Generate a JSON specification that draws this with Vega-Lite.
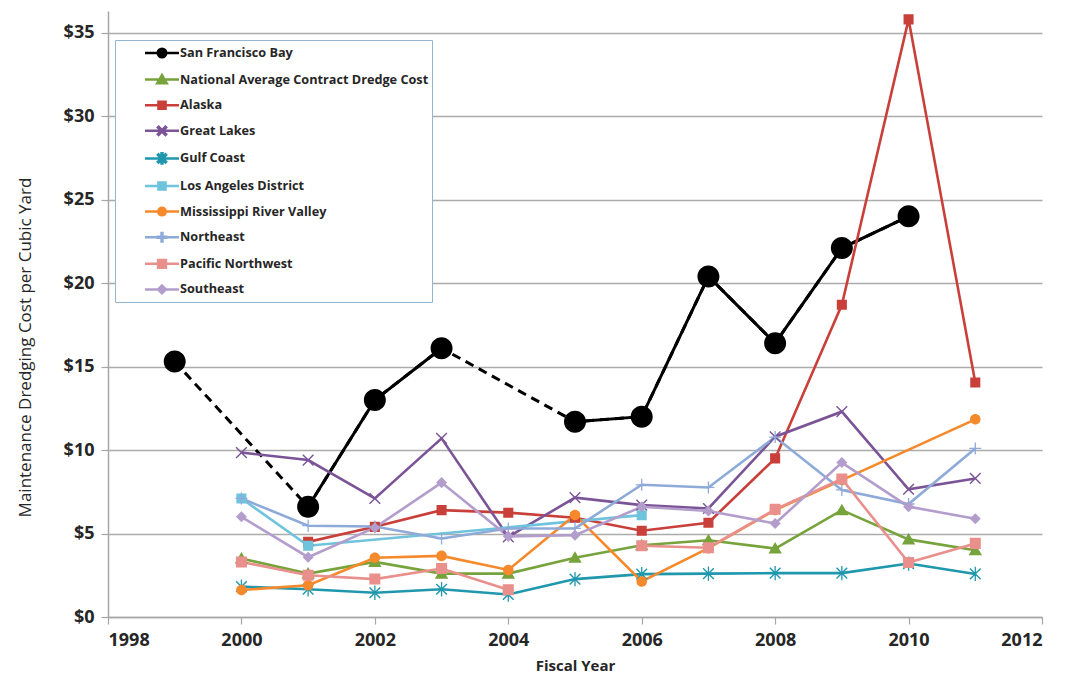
{
  "$schema": "https://vega.github.io/schema/vega-lite/v6.json",
  "autosize": {"type": "none"},
  "width": 934,
  "height": 606,
  "padding": {"left": 108, "top": 11, "right": 29, "bottom": 59},
  "background": "white",
  "config": {
    "view": {"stroke": null},
    "font": "Open Sans"
  },
  "data": {
    "values": [
      {"year": 1999, "series": "San Francisco Bay", "value": 15.3, "seg": "a"},
      {"year": 2001, "series": "San Francisco Bay", "value": 6.6, "seg": "b"},
      {"year": 2002, "series": "San Francisco Bay", "value": 13.0, "seg": "b"},
      {"year": 2003, "series": "San Francisco Bay", "value": 16.1, "seg": "b"},
      {"year": 2005, "series": "San Francisco Bay", "value": 11.7, "seg": "c"},
      {"year": 2006, "series": "San Francisco Bay", "value": 12.0, "seg": "c"},
      {"year": 2007, "series": "San Francisco Bay", "value": 20.4, "seg": "c"},
      {"year": 2008, "series": "San Francisco Bay", "value": 16.4, "seg": "c"},
      {"year": 2009, "series": "San Francisco Bay", "value": 22.1, "seg": "c"},
      {"year": 2010, "series": "San Francisco Bay", "value": 24.0, "seg": "c"},

      {"year": 2000, "series": "National Average Contract Dredge Cost", "value": 3.5},
      {"year": 2001, "series": "National Average Contract Dredge Cost", "value": 2.6},
      {"year": 2002, "series": "National Average Contract Dredge Cost", "value": 3.3},
      {"year": 2003, "series": "National Average Contract Dredge Cost", "value": 2.6},
      {"year": 2004, "series": "National Average Contract Dredge Cost", "value": 2.6},
      {"year": 2005, "series": "National Average Contract Dredge Cost", "value": 3.55},
      {"year": 2006, "series": "National Average Contract Dredge Cost", "value": 4.3},
      {"year": 2007, "series": "National Average Contract Dredge Cost", "value": 4.6},
      {"year": 2008, "series": "National Average Contract Dredge Cost", "value": 4.1},
      {"year": 2009, "series": "National Average Contract Dredge Cost", "value": 6.4},
      {"year": 2010, "series": "National Average Contract Dredge Cost", "value": 4.65},
      {"year": 2011, "series": "National Average Contract Dredge Cost", "value": 4.0},

      {"year": 2001, "series": "Alaska", "value": 4.5},
      {"year": 2002, "series": "Alaska", "value": 5.4},
      {"year": 2003, "series": "Alaska", "value": 6.4},
      {"year": 2004, "series": "Alaska", "value": 6.25},
      {"year": 2005, "series": "Alaska", "value": 5.95},
      {"year": 2006, "series": "Alaska", "value": 5.17},
      {"year": 2007, "series": "Alaska", "value": 5.65},
      {"year": 2008, "series": "Alaska", "value": 9.5},
      {"year": 2009, "series": "Alaska", "value": 18.7},
      {"year": 2010, "series": "Alaska", "value": 35.8},
      {"year": 2011, "series": "Alaska", "value": 14.05},

      {"year": 2000, "series": "Great Lakes", "value": 9.85},
      {"year": 2001, "series": "Great Lakes", "value": 9.4},
      {"year": 2002, "series": "Great Lakes", "value": 7.1},
      {"year": 2003, "series": "Great Lakes", "value": 10.7},
      {"year": 2004, "series": "Great Lakes", "value": 4.8},
      {"year": 2005, "series": "Great Lakes", "value": 7.15},
      {"year": 2006, "series": "Great Lakes", "value": 6.7},
      {"year": 2007, "series": "Great Lakes", "value": 6.5},
      {"year": 2008, "series": "Great Lakes", "value": 10.8},
      {"year": 2009, "series": "Great Lakes", "value": 12.3},
      {"year": 2010, "series": "Great Lakes", "value": 7.65},
      {"year": 2011, "series": "Great Lakes", "value": 8.3},

      {"year": 2000, "series": "Gulf Coast", "value": 1.82},
      {"year": 2001, "series": "Gulf Coast", "value": 1.66},
      {"year": 2002, "series": "Gulf Coast", "value": 1.45},
      {"year": 2003, "series": "Gulf Coast", "value": 1.66},
      {"year": 2004, "series": "Gulf Coast", "value": 1.35},
      {"year": 2005, "series": "Gulf Coast", "value": 2.27},
      {"year": 2006, "series": "Gulf Coast", "value": 2.57},
      {"year": 2007, "series": "Gulf Coast", "value": 2.6},
      {"year": 2008, "series": "Gulf Coast", "value": 2.63},
      {"year": 2009, "series": "Gulf Coast", "value": 2.63},
      {"year": 2010, "series": "Gulf Coast", "value": 3.2},
      {"year": 2011, "series": "Gulf Coast", "value": 2.58},

      {"year": 2000, "series": "Los Angeles District", "value": 7.1},
      {"year": 2001, "series": "Los Angeles District", "value": 4.27},
      {"year": 2006, "series": "Los Angeles District", "value": 6.1},

      {"year": 2000, "series": "Mississippi River Valley", "value": 1.62},
      {"year": 2001, "series": "Mississippi River Valley", "value": 1.9},
      {"year": 2002, "series": "Mississippi River Valley", "value": 3.55},
      {"year": 2003, "series": "Mississippi River Valley", "value": 3.66},
      {"year": 2004, "series": "Mississippi River Valley", "value": 2.82},
      {"year": 2005, "series": "Mississippi River Valley", "value": 6.11},
      {"year": 2006, "series": "Mississippi River Valley", "value": 2.13},
      {"year": 2007, "series": "Mississippi River Valley", "value": 4.12},
      {"year": 2008, "series": "Mississippi River Valley", "value": 6.41},
      {"year": 2009, "series": "Mississippi River Valley", "value": 8.2},
      {"year": 2011, "series": "Mississippi River Valley", "value": 11.84},

      {"year": 2000, "series": "Northeast", "value": 7.1},
      {"year": 2001, "series": "Northeast", "value": 5.47},
      {"year": 2002, "series": "Northeast", "value": 5.42},
      {"year": 2003, "series": "Northeast", "value": 4.7},
      {"year": 2004, "series": "Northeast", "value": 5.3},
      {"year": 2005, "series": "Northeast", "value": 5.31},
      {"year": 2006, "series": "Northeast", "value": 7.92},
      {"year": 2007, "series": "Northeast", "value": 7.76},
      {"year": 2008, "series": "Northeast", "value": 10.78},
      {"year": 2009, "series": "Northeast", "value": 7.61},
      {"year": 2010, "series": "Northeast", "value": 6.77},
      {"year": 2011, "series": "Northeast", "value": 10.1},

      {"year": 2000, "series": "Pacific Northwest", "value": 3.3},
      {"year": 2001, "series": "Pacific Northwest", "value": 2.5},
      {"year": 2002, "series": "Pacific Northwest", "value": 2.27},
      {"year": 2003, "series": "Pacific Northwest", "value": 2.9},
      {"year": 2004, "series": "Pacific Northwest", "value": 1.63},
      {"year": 2005, "series": "Pacific Northwest", "value": null},
      {"year": 2006, "series": "Pacific Northwest", "value": 4.27},
      {"year": 2007, "series": "Pacific Northwest", "value": 4.15},
      {"year": 2008, "series": "Pacific Northwest", "value": 6.45},
      {"year": 2009, "series": "Pacific Northwest", "value": 8.27},
      {"year": 2010, "series": "Pacific Northwest", "value": 3.26},
      {"year": 2011, "series": "Pacific Northwest", "value": 4.41},

      {"year": 2000, "series": "Southeast", "value": 6.0},
      {"year": 2001, "series": "Southeast", "value": 3.58},
      {"year": 2002, "series": "Southeast", "value": 5.35},
      {"year": 2003, "series": "Southeast", "value": 8.05},
      {"year": 2004, "series": "Southeast", "value": 4.83},
      {"year": 2005, "series": "Southeast", "value": 4.9},
      {"year": 2006, "series": "Southeast", "value": 6.6},
      {"year": 2007, "series": "Southeast", "value": 6.35},
      {"year": 2008, "series": "Southeast", "value": 5.6},
      {"year": 2009, "series": "Southeast", "value": 9.25},
      {"year": 2010, "series": "Southeast", "value": 6.61},
      {"year": 2011, "series": "Southeast", "value": 5.88}
    ]
  },
  "encoding": {
    "x": {
      "field": "year", "type": "quantitative",
      "scale": {"domain": [1998, 2012], "nice": false, "zero": false},
      "axis": {
        "values": [1998, 2000, 2002, 2004, 2006, 2008, 2010, 2012],
        "format": "d",
        "grid": false,
        "domainColor": "#a6a6a6", "domainWidth": 1.5,
        "tickColor": "#a6a6a6", "tickSize": 7, "tickWidth": 1.2,
        "labelFont": "Open Sans", "labelFontSize": 18, "labelFontWeight": "bold", "labelColor": "#262626",
        "labelPadding": 7,
        "title": "Fiscal Year",
        "titleFont": "Open Sans", "titleFontSize": 15, "titleFontWeight": "bold", "titleColor": "#262626",
        "titleY": 48, "titleBaseline": "middle"
      }
    },
    "y": {
      "field": "value", "type": "quantitative",
      "scale": {"domain": [0, 36.3], "nice": false},
      "axis": {
        "values": [0, 5, 10, 15, 20, 25, 30, 35],
        "labelExpr": "'$' + datum.value",
        "grid": true, "gridColor": "#ababab", "gridWidth": 1.3,
        "domainColor": "#a6a6a6", "domainWidth": 1.5,
        "tickColor": "#a6a6a6", "tickSize": 7, "tickWidth": 1.2,
        "labelFont": "Open Sans", "labelFontSize": 18, "labelFontWeight": "bold", "labelColor": "#262626",
        "labelPadding": 7,
        "title": "Maintenance Dredging Cost per Cubic Yard",
        "titleFont": "Open Sans", "titleFontSize": 17, "titleFontWeight": "normal", "titleColor": "#262626",
        "titleX": -83, "titleY": 336, "titleAngle": -90, "titleAlign": "center", "titleBaseline": "middle"
      }
    }
  },
  "layer": [
    {
      "transform": [{"filter": "datum.series === 'San Francisco Bay'"}],
      "mark": {"type": "line", "color": "#000000", "strokeWidth": 3, "strokeDash": [9, 6]},
      "encoding": {}
    },
    {
      "transform": [{"filter": "datum.series === 'San Francisco Bay'"}],
      "mark": {"type": "line", "color": "#000000", "strokeWidth": 3},
      "encoding": {"detail": {"field": "seg"}}
    },
    {
      "transform": [{"filter": "datum.series !== 'San Francisco Bay'"}],
      "mark": {"type": "line", "strokeWidth": 2.6, "invalid": "break-paths-filter-domains"},
      "encoding": {
        "stroke": {
          "field": "series", "type": "nominal",
          "scale": {
            "domain": ["San Francisco Bay", "National Average Contract Dredge Cost", "Alaska", "Great Lakes", "Gulf Coast", "Los Angeles District", "Mississippi River Valley", "Northeast", "Pacific Northwest", "Southeast"],
            "range": ["#000000", "#77a33c", "#c9403a", "#7b5497", "#1f98ae", "#6fc3dc", "#f5892b", "#8eaad8", "#e9908c", "#b39dcc"]
          },
          "legend": {
            "title": null,
            "orient": "none", "legendX": 7, "legendY": 29,
            "direction": "vertical",
            "fillColor": "white", "strokeColor": "#92b6d2",
            "padding": 3, "symbolOffset": 34, "labelOffset": 8,
            "symbolSize": 289, "symbolStrokeWidth": 2.5,
            "labelFont": "Open Sans", "labelFontSize": 12.7, "labelFontWeight": "bold", "labelColor": "#262626",
            "rowPadding": 6.6, "labelLimit": 400
          }
        }
      }
    },
    {
      "transform": [{"filter": "datum.series === 'San Francisco Bay'"}],
      "mark": {"type": "point", "filled": true, "opacity": 1, "size": 1936},
      "encoding": {
        "fill": {"field": "series", "type": "nominal"},
        "shape": {"field": "series", "type": "nominal"}
      }
    },
    {
      "transform": [{"filter": "datum.value != null && datum.series !== 'San Francisco Bay'"}],
      "mark": {"type": "point", "filled": true, "opacity": 1, "size": 575},
      "encoding": {
        "fill": {
          "field": "series", "type": "nominal",
          "scale": {
            "domain": ["San Francisco Bay", "National Average Contract Dredge Cost", "Alaska", "Great Lakes", "Gulf Coast", "Los Angeles District", "Mississippi River Valley", "Northeast", "Pacific Northwest", "Southeast"],
            "range": ["#000000", "#77a33c", "#c9403a", "#7b5497", "#1f98ae", "#6fc3dc", "#f5892b", "#8eaad8", "#e9908c", "#b39dcc"]
          },
          "legend": {
            "title": null,
            "orient": "none", "legendX": 7, "legendY": 29,
            "direction": "vertical",
            "fillColor": "white", "strokeColor": "#92b6d2",
            "padding": 3, "symbolOffset": 34, "labelOffset": 8,
            "symbolSize": 289, "symbolStrokeWidth": 2.5,
            "labelFont": "Open Sans", "labelFontSize": 12.7, "labelFontWeight": "bold", "labelColor": "#262626",
            "rowPadding": 6.6, "labelLimit": 400
          }
        },
        "shape": {
          "field": "series", "type": "nominal",
          "scale": {
            "domain": ["San Francisco Bay", "National Average Contract Dredge Cost", "Alaska", "Great Lakes", "Gulf Coast", "Los Angeles District", "Mississippi River Valley", "Northeast", "Pacific Northwest", "Southeast"],
            "range": [
              "M-2,0H2M-0.5,0A0.5,0.5 0 1,1 0.5,0A0.5,0.5 0 1,1 -0.5,0Z",
              "M-2,0H2M0,-0.54L0.56,0.42L-0.56,0.42Z",
              "M-2,0H2M-0.42,-0.42H0.42V0.42H-0.42Z",
              "M-2,0H2M-0.402,-0.486L0.486,0.402L0.402,0.486L-0.486,-0.402ZM-0.402,0.486L-0.486,0.402L0.402,-0.486L0.486,-0.402Z",
              "M-2,0H2M-0.402,-0.486L0.486,0.402L0.402,0.486L-0.486,-0.402ZM-0.402,0.486L-0.486,0.402L0.402,-0.486L0.486,-0.402ZM-0.054,-0.6H0.054V0.6H-0.054Z",
              "M-2,0H2M-0.42,-0.42H0.42V0.42H-0.42Z",
              "M-2,0H2M-0.44,0A0.44,0.44 0 1,1 0.44,0A0.44,0.44 0 1,1 -0.44,0Z",
              "M-2,0H2M-0.5,-0.054H0.5V0.054H-0.5ZM-0.054,-0.5H0.054V0.5H-0.054Z",
              "M-2,0H2M-0.46,-0.46H0.46V0.46H-0.46Z",
              "M-2,0H2M-0.46,0L0,-0.46L0.46,0L0,0.46Z"
            ]
          },
          "legend": {
            "title": null,
            "orient": "none", "legendX": 7, "legendY": 29,
            "direction": "vertical",
            "fillColor": "white", "strokeColor": "#92b6d2",
            "padding": 3, "symbolOffset": 34, "labelOffset": 8,
            "symbolSize": 289, "symbolStrokeWidth": 2.5,
            "labelFont": "Open Sans", "labelFontSize": 12.7, "labelFontWeight": "bold", "labelColor": "#262626",
            "rowPadding": 6.6, "labelLimit": 400
          }
        }
      }
    },
    {
      "data": {"values": [{}]},
      "mark": {"type": "text", "align": "left", "baseline": "top", "lineHeight": 13, "font": "Open Sans", "fontSize": 10.5, "fontWeight": "bold", "color": "#262626"},
      "encoding": {
        "x": {"datum": 1998.2, "type": "quantitative"},
        "y": {"datum": 18.45, "type": "quantitative"},
        "text": {"value": ["Source:  USACE Dredging Information System,", "eCoastal,  USACE San Francisco District"]}
      }
    }
  ]
}
